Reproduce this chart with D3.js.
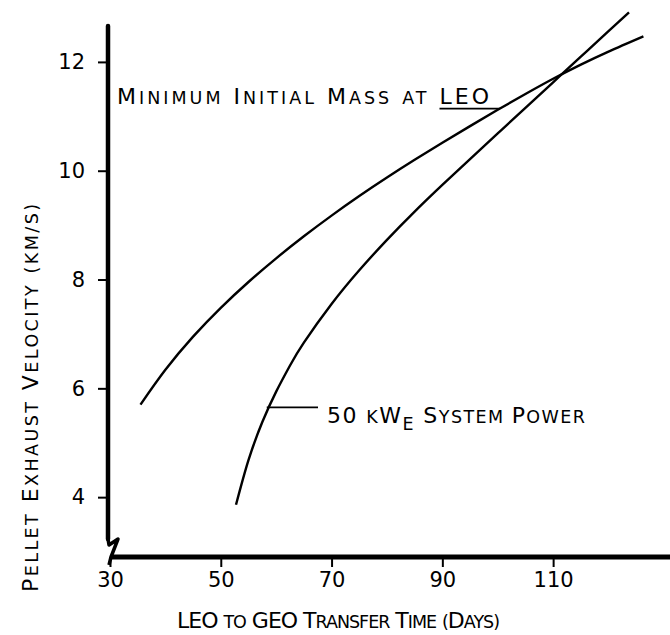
<!DOCTYPE html>
<html><head><meta charset="utf-8">
<script src="https://cdn.jsdelivr.net/npm/d3@7"></script>
<style>html,body{margin:0;padding:0;background:#fff;} svg{display:block;}</style>
</head><body><svg id="c" width="670" height="635"></svg>
<script>
// ---- data ----
const xTicks = [30, 50, 70, 90, 110];
const yTicks = [4, 6, 8, 10, 12];
const massDays = [35.5, 40, 45, 50, 55, 60, 65, 70, 75, 80, 85, 90, 95, 100, 105, 110, 115, 120, 126.3];
const massVel  = [5.70, 6.34, 6.95, 7.48, 7.955, 8.39, 8.795, 9.175, 9.535, 9.875, 10.20, 10.515, 10.82, 11.12, 11.41, 11.69, 11.95, 12.19, 12.47];
const powerDays = [52.75, 55, 57.5, 60, 62.5, 65, 70, 75, 80, 85, 90, 95, 100, 105, 110, 115, 120, 123.7];
const powerVel  = [3.86, 4.68, 5.38, 5.94, 6.42, 6.84, 7.55, 8.17, 8.73, 9.25, 9.74, 10.215, 10.685, 11.155, 11.625, 12.095, 12.565, 12.91];
const massLabel = "Minimum Initial Mass at LEO";
const powerLabel = ["50 ", "k", "W", "E", " S", "ystem ", "P", "ower"];
const xTitle = "LEO to GEO Transfer Time (Days)";
const yTitle = "Pellet Exhaust Velocity (km/s)";
const massAnchor = [100.4, 11.14];
const powerAnchor = [58.3, 5.65];

// ---- layout ----
const svg = d3.select("#c");
const FONT = "DejaVu Sans, sans-serif";
const BIG = 22, SMALL = 17.5;
const axX = 108, axY = 557;
const x = d3.scaleLinear().domain([30, 131.1]).range([110, 670]);
const y = d3.scaleLinear().domain([2.9, 12.66]).range([axY, 26]);

function smallCaps(textSel, str) {
  const runs = str.match(/[a-z(/)]+|[^a-z(/)]+/g);
  runs.forEach(r => {
    const low = /^[a-z(/)]+$/.test(r);
    textSel.append("tspan").attr("font-size", low ? SMALL : BIG).text(r.toUpperCase());
  });
}
function fitWidth(textSel, target) {
  const node = textSel.node();
  const nat = node.getComputedTextLength();
  const n = node.getNumberOfChars();
  textSel.attr("letter-spacing", (target - nat) / (n - 1));
}

// ---- axes ----
const gy = svg.append("g").attr("transform", `translate(${axX},0)`)
  .call(d3.axisLeft(y).tickValues(yTicks).tickSize(10).tickPadding(13).tickFormat(d3.format("d")));
gy.select(".domain").remove();
gy.selectAll(".tick line").attr("stroke", "#000").attr("stroke-width", 2);
gy.selectAll(".tick text").attr("font-family", FONT).attr("font-size", 21).attr("fill", "#000");

const gx = svg.append("g").attr("transform", `translate(0,${axY})`)
  .call(d3.axisBottom(x).tickValues(xTicks).tickSize(10).tickPadding(5).tickFormat(d3.format("d")));
gx.select(".domain").remove();
gx.selectAll(".tick line").attr("stroke", "#000").attr("stroke-width", 2);
gx.selectAll(".tick text").attr("font-family", FONT).attr("font-size", 21).attr("fill", "#000");

// axis lines with break
svg.append("line").attr("x1", axX).attr("x2", axX).attr("y1", 26).attr("y2", axY - 18)
  .attr("stroke", "#000").attr("stroke-width", 4.5).attr("stroke-linecap", "round");
svg.append("line").attr("x1", axX + 3).attr("x2", 670).attr("y1", axY).attr("y2", axY)
  .attr("stroke", "#000").attr("stroke-width", 5);
svg.append("path")
  .attr("d", `M${axX},${axY - 18} L${axX + 1},${axY - 12} L${axX + 10},${axY - 18} L${axX + 3},${axY} L${axX + 1},${axY + 8}`)
  .attr("fill", "none").attr("stroke", "#000").attr("stroke-width", 3.5).attr("stroke-linejoin", "round");

// ---- curves ----
const line = d3.line().x(d => x(d[0])).y(d => y(d[1])).curve(d3.curveNatural);
svg.append("path").datum(d3.zip(massDays, massVel)).attr("d", line)
  .attr("fill", "none").attr("stroke", "#000").attr("stroke-width", 2.4);
svg.append("path").datum(d3.zip(powerDays, powerVel)).attr("d", line)
  .attr("fill", "none").attr("stroke", "#000").attr("stroke-width", 2.4);

// ---- annotations ----
const mA = [x(massAnchor[0]), y(massAnchor[1])];
const tA = svg.append("text").attr("x", 117).attr("y", mA[1] - 5)
  .attr("font-family", FONT).attr("fill", "#000");
smallCaps(tA, massLabel);
fitWidth(tA, 372);
const leoStart = tA.node().getStartPositionOfChar(massLabel.indexOf("LEO")).x;
svg.append("line").attr("x1", leoStart).attr("x2", mA[0]).attr("y1", mA[1]).attr("y2", mA[1])
  .attr("stroke", "#000").attr("stroke-width", 1.8);

const pA = [x(powerAnchor[0]), y(powerAnchor[1])];
svg.append("line").attr("x1", pA[0]).attr("x2", 318).attr("y1", pA[1]).attr("y2", pA[1])
  .attr("stroke", "#000").attr("stroke-width", 1.8);
const tB = svg.append("text").attr("x", 327).attr("y", pA[1] + 16)
  .attr("font-family", FONT).attr("fill", "#000");
tB.append("tspan").attr("font-size", BIG).text(powerLabel[0]);
tB.append("tspan").attr("font-size", SMALL).text(powerLabel[1].toUpperCase());
tB.append("tspan").attr("font-size", BIG).text(powerLabel[2]);
tB.append("tspan").attr("font-size", SMALL).attr("dy", 7).text(powerLabel[3]);
tB.append("tspan").attr("font-size", BIG).attr("dy", -7).text(powerLabel[4]);
tB.append("tspan").attr("font-size", SMALL).text(powerLabel[5].toUpperCase());
tB.append("tspan").attr("font-size", BIG).text(powerLabel[6]);
tB.append("tspan").attr("font-size", SMALL).text(powerLabel[7].toUpperCase());
fitWidth(tB, 258);

// ---- titles ----
const tX = svg.append("text").attr("x", 177).attr("y", 628)
  .attr("font-family", FONT).attr("fill", "#000");
smallCaps(tX, xTitle);
fitWidth(tX, 323);

const tY = svg.append("text").attr("transform", "translate(38,592) rotate(-90)")
  .attr("font-family", FONT).attr("fill", "#000");
smallCaps(tY, yTitle);
fitWidth(tY, 388);
</script></body></html>
